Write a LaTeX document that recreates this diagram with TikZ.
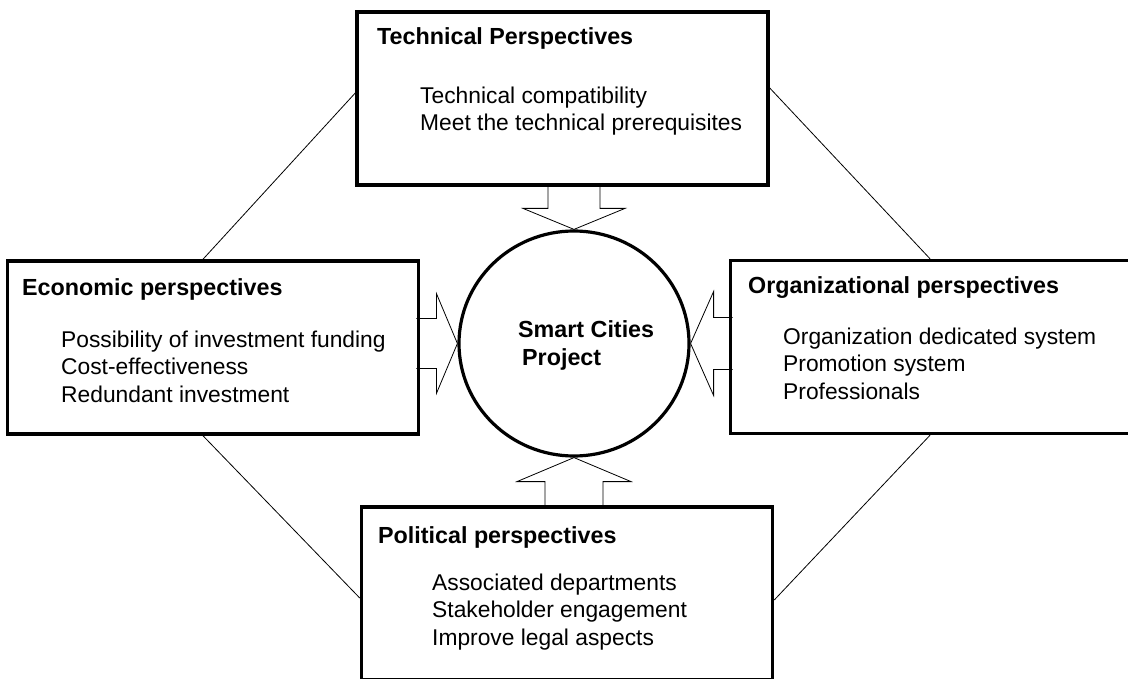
\documentclass[tikz,border=0pt]{standalone}
\usepackage{fontspec}
\setmainfont{Liberation Sans}
\usepackage{tikz}
\usetikzlibrary{shapes}
\usetikzlibrary{positioning}

\tikzset{
  persp/.style={draw, line width=3.5pt, minimum width=411pt, minimum height=173pt, inner sep=0pt},
  heading/.style={anchor=base west, inner sep=0pt, font=\fontsize{23.3}{27.5}\selectfont\bfseries},
  items/.style={anchor=base west, inner sep=0pt, align=left, font=\fontsize{22.8}{27.3}\selectfont},
  fat/.style={line width=0.8pt},
  link/.style={line width=0.8pt}
}

\begin{document}
\begin{tikzpicture}[x=1pt,y=-1pt]
\useasboundingbox (0,0) rectangle (1128,679);
\fill[white] (0,0) rectangle (1128,679);
% the four boxes and the hub
\node[persp] (tech) at (562.5,98.5) {};
\node[persp] (econ) at (213,347.5) {};
\node[persp] (org) at (936,347) {};
\node[persp] (pol) at (567,593.5) {};
\node[draw, ellipse, line width=3.2pt, minimum width=230pt, minimum height=225pt, inner sep=0pt] (hub) at (574,343.5) {};
% thin links between the boxes
\draw[link] ([yshift=5.5pt]tech.west) -- ([xshift=-10pt]econ.north);
\draw[link] ([yshift=10.5pt]tech.east) -- ([xshift=-6pt]org.north);
\draw[link] ([xshift=-10pt]econ.south) -- ([yshift=-4.5pt]pol.west);
\draw[link] ([xshift=-6pt]org.south) -- ([yshift=-6.5pt]pol.east);
% block arrows into the hub
\draw[fat] (hub.north) -- ++(-51,-21) -- ++(25,0) -- ++(0,-23);
\draw[fat] (hub.north) -- ++(51,-21) -- ++(-25,0) -- ++(0,-23);
\draw[fat] (hub.west) -- ++(-21,-50) -- ++(0,25) -- ++(-20,0);
\draw[fat] (hub.west) -- ++(-21,50) -- ++(0,-25) -- ++(-20,0);
\draw[fat] (hub.east) -- ++(23,-52) -- ++(0,26) -- ++(19,0);
\draw[fat] (hub.east) -- ++(23,52) -- ++(0,-26) -- ++(19,0);
\draw[fat] (hub.south) -- ++(-57,24) -- ++(28,0) -- ++(0,25);
\draw[fat] (hub.south) -- ++(57,24) -- ++(-28,0) -- ++(0,25);
% texts (base = last line)
\node[heading] (techT) at (377,45) {Technical Perspectives};
\node[items] (techL) at (420,131) {Technical compatibility\\Meet the technical prerequisites};
\node[heading] (econT) at (22,295) {Economic perspectives};
\node[items] (econL) at (61,402) {Possibility of investment funding\\Cost-effectiveness\\Redundant investment};
\node[heading] (orgT) at (748,294) {Organizational perspectives};
\node[items] (orgL) at (783,399) {Organization dedicated system\\Promotion system\\Professionals};
\node[heading] (polT) at (378,543) {Political perspectives};
\node[items] (polL) at (432,645) {Associated departments\\Stakeholder engagement\\Improve legal aspects};
\node[heading, align=left] (hubT) at (518,365) {Smart Cities\\\hspace*{4pt}Project};
\end{tikzpicture}
\end{document}
